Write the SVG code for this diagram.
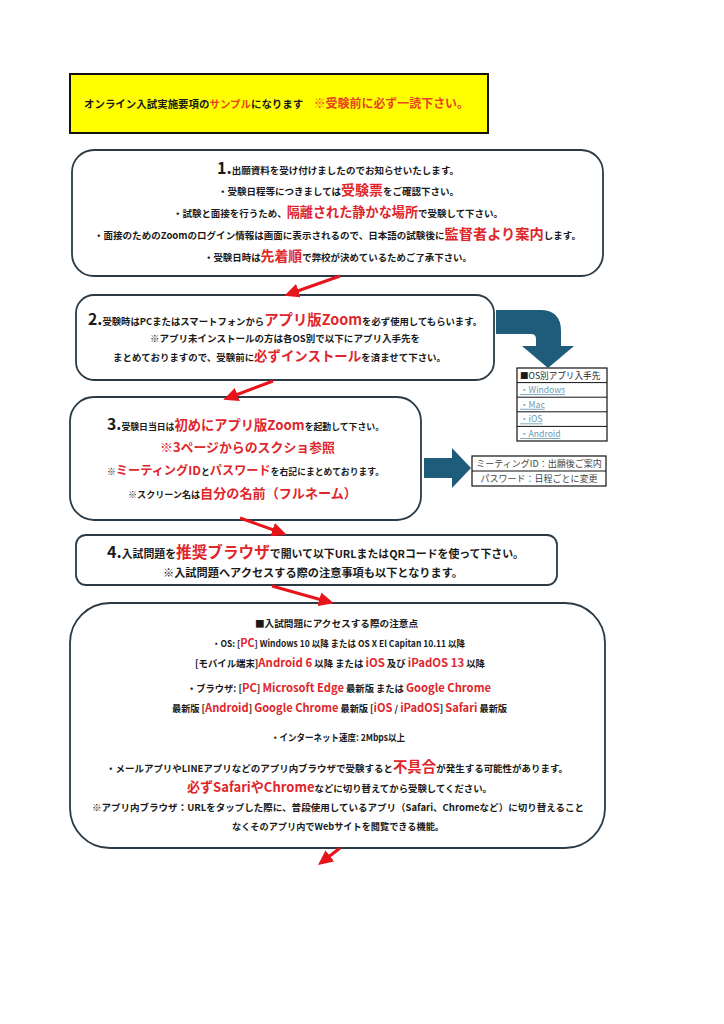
<svg xmlns="http://www.w3.org/2000/svg" width="724" height="1024" viewBox="0 0 724 1024">
<style>
text{font-family:"Noto Sans CJK JP","Noto Sans",sans-serif;font-weight:bold;fill:#1a1a1a;}
.box{fill:#fff;stroke:#2b3a44;stroke-width:1.8;}
.r{fill:#e0262b;}
.hr{fill:#e8431e;}
.num{font-size:16px;}
.s{font-size:9.5px;}
.t{font-size:8.6px;font-weight:normal;}
.lnk{fill:#6a9bb5;text-decoration:underline;}
.gray{fill:#444;font-size:9px;}
.cell{fill:#fff;stroke:#111;stroke-width:1.2;}
.blue{fill:#1f5c7c;}
.arr{stroke:#e8141b;stroke-width:3;fill:none;marker-end:url(#ah);}
.rs{fill:#e0262b;font-size:11.5px;}
</style>
<defs>
<marker id="ah" markerUnits="userSpaceOnUse" markerWidth="16" markerHeight="14" refX="10" refY="7" orient="auto">
<path d="M0,0 L15,7 L0,14 z" fill="#e8141b"/>
</marker>
</defs>
<rect width="724" height="1024" fill="#fff"/>

<g id="header">
<rect x="70" y="74" width="418" height="59" fill="#ffff00" stroke="#111" stroke-width="2"/>
<text x="84" y="108" font-size="10.5" textLength="385" lengthAdjust="spacingAndGlyphs">オンライン入試実施要項の<tspan class="hr">サンプル</tspan>になります　<tspan class="hr" font-size="12">※受験前に必ず一読下さい。</tspan></text>
</g>

<g id="step1">
<rect class="box" x="72" y="150" width="531" height="126" rx="22"/>
<text class="s" x="217" y="174" textLength="242" lengthAdjust="spacingAndGlyphs"><tspan class="num">1.</tspan>出願資料を受け付けましたのでお知らせいたします。</text>
<text class="s" x="218" y="195" textLength="241" lengthAdjust="spacingAndGlyphs">・受験日程等につきましては<tspan class="r" font-size="14">受験票</tspan>をご確認下さい。</text>
<text class="s" x="173" y="217" textLength="330" lengthAdjust="spacingAndGlyphs">・試験と面接を行うため、<tspan class="r" font-size="13.2">隔離された静かな場所</tspan>で受験して下さい。</text>
<text class="s" x="94" y="239" textLength="487" lengthAdjust="spacingAndGlyphs">・面接のためのZoomのログイン情報は画面に表示されるので、日本語の試験後に<tspan class="r" font-size="14.2">監督者より案内</tspan>します。</text>
<text class="s" x="204" y="261" textLength="268" lengthAdjust="spacingAndGlyphs">・受験日時は<tspan class="r" font-size="14">先着順</tspan>で弊校が決めているためご了承下さい。</text>
</g>

<g id="step2">
<rect class="box" x="76" y="295" width="418" height="85" rx="18"/>
<text class="s" x="88" y="325" textLength="394" lengthAdjust="spacingAndGlyphs"><tspan class="num">2.</tspan>受験時はPCまたはスマートフォンから<tspan class="r" font-size="14.6">アプリ版Zoom</tspan>を必ず使用してもらいます。</text>
<text class="s" x="150" y="342" textLength="270" lengthAdjust="spacingAndGlyphs">※アプリ未インストールの方は各OS別で以下にアプリ入手先を</text>
<text class="s" x="113" y="361" textLength="333" lengthAdjust="spacingAndGlyphs">まとめておりますので、受験前に<tspan class="r" font-size="13.5">必ずインストール</tspan>を済ませて下さい。</text>
</g>

<g id="os-table">
<rect class="cell" x="517" y="368" width="90" height="73" stroke-width="1.6"/>
<line x1="517" y1="382.6" x2="607" y2="382.6" stroke="#111" stroke-width="1"/>
<line x1="517" y1="397.2" x2="607" y2="397.2" stroke="#111" stroke-width="1"/>
<line x1="517" y1="411.8" x2="607" y2="411.8" stroke="#111" stroke-width="1"/>
<line x1="517" y1="426.4" x2="607" y2="426.4" stroke="#111" stroke-width="1"/>
<text class="t" x="520" y="378.6">■OS別アプリ入手先</text>
<text class="t lnk" x="520" y="393.2">・Windows</text>
<text class="t lnk" x="520" y="407.8">・Mac</text>
<text class="t lnk" x="520" y="422.4">・iOS</text>
<text class="t lnk" x="520" y="437">・Android</text>
</g>

<g id="step3">
<rect class="box" x="70" y="397" width="351" height="123" rx="24"/>
<text x="107" y="430" font-size="9" textLength="277" lengthAdjust="spacingAndGlyphs"><tspan class="num">3.</tspan>受験日当日は<tspan class="r" font-size="13.5">初めにアプリ版Zoom</tspan>を起動して下さい。</text>
<text class="r" x="160" y="452" font-size="12.8" textLength="175" lengthAdjust="spacingAndGlyphs">※3ページからのスクショ参照</text>
<text x="107" y="475" font-size="8.8" textLength="277" lengthAdjust="spacingAndGlyphs">※<tspan class="r" font-size="12.2">ミーティングID</tspan>と<tspan class="r" font-size="12.2">パスワード</tspan>を右記にまとめております。</text>
<text x="128" y="498" font-size="9" textLength="229" lengthAdjust="spacingAndGlyphs">※スクリーン名は<tspan class="r" font-size="13">自分の名前（フルネーム）</tspan></text>
</g>

<g id="meeting-table">
<rect class="cell" x="472" y="456" width="134" height="30" stroke-width="1.6"/>
<line x1="472" y1="471" x2="606" y2="471" stroke="#111" stroke-width="1"/>
<text class="t gray" x="539" y="467" text-anchor="middle">ミーティングID：出願後ご案内</text>
<text class="t gray" x="539" y="482" text-anchor="middle">パスワード：日程ごとに変更</text>
</g>

<g id="step4">
<rect class="box" x="76" y="535" width="481" height="50" rx="10"/>
<text x="107" y="558" font-size="10.8" textLength="417" lengthAdjust="spacingAndGlyphs"><tspan class="num">4.</tspan>入試問題を<tspan class="r" font-size="15.5">推奨ブラウザ</tspan>で開いて以下URLまたはQRコードを使って下さい。</text>
<text x="163" y="577" font-size="11" textLength="300" lengthAdjust="spacingAndGlyphs">※入試問題へアクセスする際の注意事項も以下となります。</text>
</g>

<g id="step5">
<rect class="box" x="70" y="603" width="535" height="245" rx="40"/>
<text class="s" x="255" y="627" textLength="163" lengthAdjust="spacingAndGlyphs">■入試問題にアクセスする際の注意点</text>
<text x="212" y="647" font-size="9" textLength="253" lengthAdjust="spacingAndGlyphs">・OS: [<tspan class="rs">PC</tspan>] Windows 10 以降 または OS X El Capitan 10.11 以降</text>
<text class="s" x="195" y="667" textLength="290" lengthAdjust="spacingAndGlyphs">[モバイル端末]<tspan class="rs">Android 6</tspan> 以降 または <tspan class="rs">iOS</tspan> 及び <tspan class="rs">iPadOS 13</tspan> 以降</text>
<text class="s" x="187" y="692" textLength="304" lengthAdjust="spacingAndGlyphs">・ブラウザ: [<tspan class="rs">PC</tspan>] <tspan class="rs">Microsoft Edge</tspan> 最新版 または <tspan class="rs">Google Chrome</tspan></text>
<text class="s" x="172" y="711.5" textLength="335" lengthAdjust="spacingAndGlyphs">最新版 [<tspan class="rs">Android</tspan>] <tspan class="rs">Google Chrome</tspan> 最新版 [<tspan class="rs">iOS</tspan> / <tspan class="rs">iPadOS</tspan>] <tspan class="rs">Safari</tspan> 最新版</text>
<text class="s" x="271" y="741" textLength="134" lengthAdjust="spacingAndGlyphs">・インターネット速度: 2Mbps以上</text>
<text class="s" x="106" y="772" textLength="462" lengthAdjust="spacingAndGlyphs">・メールアプリやLINEアプリなどのアプリ内ブラウザで受験すると<tspan class="r" font-size="14.5">不具合</tspan>が発生する可能性があります。</text>
<text class="s" x="187" y="792" textLength="305" lengthAdjust="spacingAndGlyphs"><tspan class="r" font-size="13.2">必ずSafariやChrome</tspan>などに切り替えてから受験してください。</text>
<text class="s" x="92" y="811" textLength="492" lengthAdjust="spacingAndGlyphs">※アプリ内ブラウザ：URLをタップした際に、普段使用しているアプリ（Safari、Chromeなど）に切り替えること</text>
<text class="s" x="232" y="830" textLength="212" lengthAdjust="spacingAndGlyphs">なくそのアプリ内でWebサイトを閲覧できる機能。</text>
</g>

<g id="connectors">
<line class="arr" x1="340" y1="276" x2="289" y2="294"/>
<line class="arr" x1="273" y1="381" x2="228" y2="398"/>
<line class="arr" x1="240" y1="518" x2="282" y2="533"/>
<line class="arr" x1="272" y1="586" x2="329" y2="602"/>
<line class="arr" x1="340" y1="848" x2="322" y2="862"/>
<path class="blue" d="M496,310 L540,310 Q561,310 561,331 L561,346 L574,346 L548,368 L522,346 L536,346 L536,339 Q536,334 531,334 L496,334 Z"/>
<path class="blue" d="M424,458 L452,458 L452,448 L471,468 L452,488 L452,478 L424,478 Z"/>
</g>
</svg>
